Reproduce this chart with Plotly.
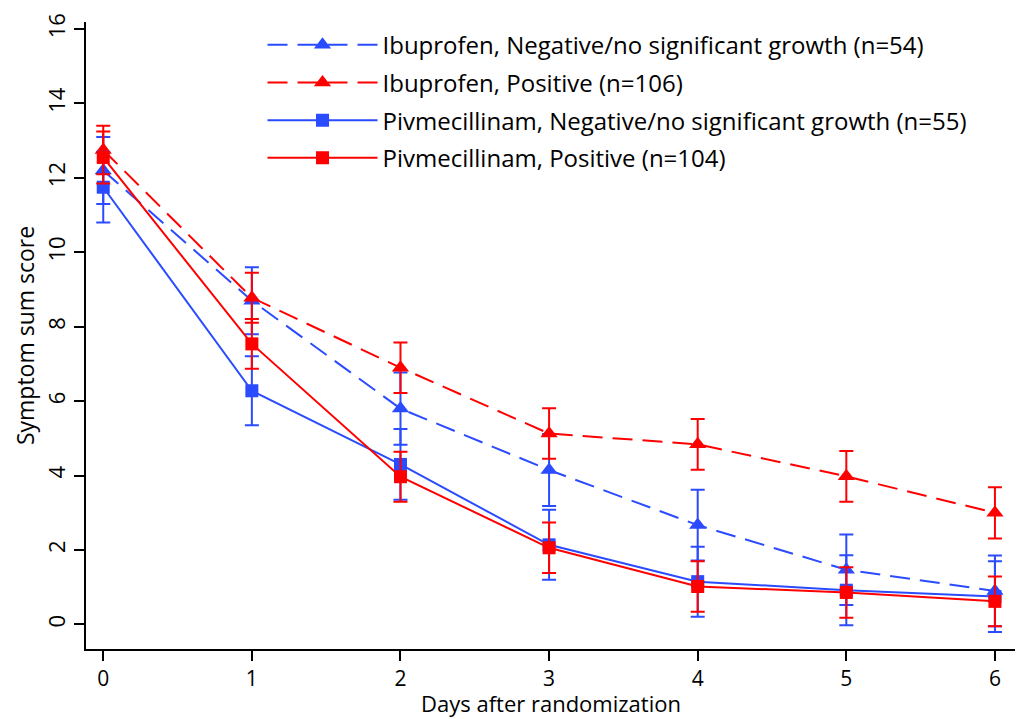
import plotly.graph_objects as go

days = [0, 1, 2, 3, 4, 5, 6]

ibu_neg = [12.2, 8.7, 5.8, 4.15, 2.67, 1.47, 0.9]
ibu_neg_err = [0.9, 0.9, 0.97, 0.97, 0.95, 0.95, 0.95]
ibu_pos = [12.75, 8.78, 6.9, 5.13, 4.84, 3.98, 3.0]
ibu_pos_err = [0.65, 0.67, 0.68, 0.68, 0.68, 0.68, 0.69]
piv_neg = [11.75, 6.28, 4.3, 2.14, 1.15, 0.92, 0.75]
piv_neg_err = [0.95, 0.93, 0.95, 0.94, 0.94, 0.94, 0.95]
piv_pos = [12.55, 7.54, 3.97, 2.06, 1.02, 0.86, 0.62]
piv_pos_err = [0.7, 0.67, 0.67, 0.68, 0.68, 0.68, 0.67]

names = [
    "Ibuprofen, Negative/no significant growth (n=54)",
    "Ibuprofen, Positive (n=106)",
    "Pivmecillinam, Negative/no significant growth (n=55)",
    "Pivmecillinam, Positive (n=104)",
]
y_ticks = [0, 2, 4, 6, 8, 10, 12, 14, 16]
x_title = "Days after randomization"
y_title = "Symptom sum score"

BLUE = "#2B4BFF"
RED = "#FF0000"
FONT = "Open Sans"

series = [
    (ibu_neg, ibu_neg_err, names[0], BLUE, "20px,10px", "triangle-up", 15),
    (ibu_pos, ibu_pos_err, names[1], RED, "20px,10px", "triangle-up", 15),
    (piv_neg, piv_neg_err, names[2], BLUE, "solid", "square", 13),
    (piv_pos, piv_pos_err, names[3], RED, "solid", "square", 13),
]

fig = go.Figure()
for i, (vals, errs, name, col, dash, sym, size) in enumerate(series):
    fig.add_trace(go.Scatter(
        x=days, y=vals, name=name, mode="lines+markers", legendgroup=f"g{i}",
        line=dict(color=col, width=2, dash=dash),
        marker=dict(color=col, symbol=sym, size=size, line=dict(width=0)),
        error_y=dict(type="data", array=errs, visible=True, color=col,
                     thickness=2, width=7),
    ))

fig.add_annotation(text=x_title, xref="paper", yref="paper", x=0.5, y=-0.1116,
                   xanchor="center", yanchor="bottom", showarrow=False,
                   borderpad=0,
                   font=dict(size=22, family=FONT, color="black"))

fig.update_layout(
    width=1019, height=719,
    margin=dict(l=86, r=4, t=22, b=70),
    paper_bgcolor="white", plot_bgcolor="white",
    font=dict(family=FONT, size=23, color="black"),
    showlegend=True,
    legend=dict(x=0.19, y=0.999, xanchor="left", yanchor="top",
                bgcolor="rgba(0,0,0,0)", font=dict(size=24, family=FONT),
                itemwidth=110, tracegroupgap=3.5),
    xaxis=dict(range=[-0.116, 6.135], tickvals=days, showgrid=False, zeroline=False,
               showline=True, linecolor="black", linewidth=2,
               ticks="outside", ticklen=10, tickwidth=2, tickcolor="black",
               tickfont=dict(size=21)),
    yaxis=dict(range=[-0.66, 16.19], tickvals=y_ticks,
               showgrid=False, zeroline=False, tickangle=-90,
               showline=True, linecolor="black", linewidth=2,
               ticks="outside", ticklen=10, tickwidth=2, tickcolor="black",
               tickfont=dict(size=22),
               title=dict(text=y_title, standoff=0,
                          font=dict(size=23))),
)

fig.write_html("out.html", config={"displayModeBar": False},
               post_script="document.body.style.margin='0';")
